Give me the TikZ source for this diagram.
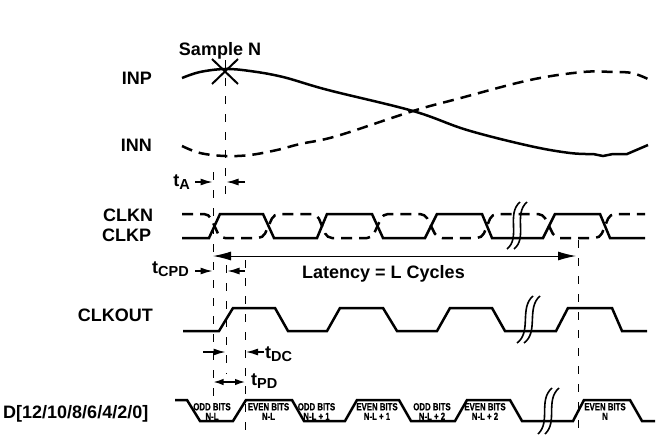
\documentclass[tikz,border=0pt]{standalone}
\usepackage{fontspec}
\setmainfont{Liberation Sans}
\newfontfamily\condfont{Liberation Sans}[FakeStretch=0.76,FakeBold=0.6]
\usetikzlibrary{arrows.meta}
\newcommand{\tsub}[1]{t\raisebox{-3pt}{\fontsize{14.5}{14}\selectfont #1}}
\begin{document}
\begin{tikzpicture}[x=1pt,y=-1pt,
  wave/.style={line width=2.5pt, line join=miter},
  dwave/.style={line width=2.5pt, dash pattern=on 11pt off 7pt},
  vguide/.style={line width=0.9pt, dash pattern=on 8pt off 10pt},
  lbl/.style={inner sep=0pt, font=\fontsize{18}{20}\selectfont\bfseries},
  cell/.style={inner sep=0pt, align=center, font=\condfont\bfseries\fontsize{10.3}{9.6}\selectfont},
  bigarrow/.style={line width=1pt, {Latex[length=18pt,width=9pt]}-{Latex[length=18pt,width=9pt]}},
  dimarrow/.style={line width=1.3pt, -{Latex[length=12pt,width=7pt]}},
  dblarrow/.style={line width=1.3pt, {Latex[length=10pt,width=6.5pt]}-{Latex[length=10pt,width=6.5pt]}},
  brk/.style={line width=1.6pt},
]
\useasboundingbox (0,0) rectangle (658,434);

% labels
\node[lbl, anchor=base] (sample) at (220,55) {Sample N};
\node[lbl, anchor=base east] (inp) at (152,84) {INP};
\node[lbl, anchor=base east] (inn) at (152,151) {INN};
\node[lbl, anchor=base west] (clkn) at (103,221.5) {CLKN};
\node[lbl, anchor=base west] (clkp) at (102,241.5) {CLKP};
\node[lbl, anchor=base east] (clkout) at (153,321) {CLKOUT};
\node[lbl, anchor=base west] (dbus) at (3,418) {D[12/10/8/6/4/2/0]};
\node[lbl, anchor=base west] (lat) at (302,278) {Latency = L Cycles};
\node[lbl, anchor=base east] (ta) at (190,186) {\tsub{A}};
\node[lbl, anchor=base west] (tcpd) at (152,273) {\tsub{CPD}};
\node[lbl, anchor=base west] (tdc) at (265,358) {\tsub{DC}};
\node[lbl, anchor=base west] (tpd) at (251,385) {\tsub{PD}};

% analog inputs
\draw[wave] plot[smooth, tension=0.6] coordinates {(182,78) (200,72) (225,69) (250,71) (283,77) (328,90) (413,111) (467,130) (530,146) (570,153) (593,154)}
  -- (603,156) -- (613,154) -- (627,154) -- (648,145);
\draw[dwave] plot[smooth, tension=0.6] coordinates {(182,146) (200,153) (225,156) (250,155) (277,150) (300,144) (337,136) (413,111) (457,99) (530,80) (583,72) (613,72) (632,73) (648,79)};

% sample cross
\draw[line width=2pt] (212,59) -- (238,84) (238,59) -- (212,84);

% clocks
\draw[dwave, rounded corners=5pt] (182,214) -- (209,214) -- (220,238) -- (263,238) -- (274,214) -- (317,214) -- (327,238) -- (372,238) -- (383,214) -- (425,214) -- (437,238) -- (482,238) -- (492,214) -- (543,214) -- (555,238) -- (600,238) -- (610,214) -- (645,214);
\draw[wave] (182,238) -- (209,238) -- (220,214) -- (263,214) -- (274,238) -- (317,238) -- (327,214) -- (372,214) -- (383,238) -- (425,238) -- (437,214) -- (482,214) -- (492,238) -- (543,238) -- (555,214) -- (600,214) -- (610,238) -- (645,238);

% clkout
\draw[wave] (183,331) -- (219,331) -- (233,308) -- (275,308) -- (288,331) -- (327,331) -- (340,308) -- (383,308) -- (397,331) -- (437,331) -- (450,308) -- (492,308) -- (505,331) -- (556,331) -- (568,308) -- (612,308) -- (622,331) -- (647,331);

% data bus
\draw[wave] (175,400) -- (187,400) -- (200,421) -- (233,421) -- (246,400) -- (292,400) -- (304,421) -- (345,421) -- (357,400) -- (399,400) -- (411,421) -- (455,421) -- (467,400) -- (510,400) -- (522,421) -- (573,421) -- (584,400) -- (630,400) -- (642,421) -- (655,421);
\node[cell] (c1) at (212,411.5) {ODD BITS\\N-L};
\node[cell] (c2) at (268.5,411.5) {EVEN BITS\\N-L};
\node[cell] (c3) at (316.5,411.5) {ODD BITS\\N-L + 1};
\node[cell] (c4) at (377,411.5) {EVEN BITS\\N-L + 1};
\node[cell] (c5) at (432,411.5) {ODD BITS\\N-L + 2};
\node[cell] (c6) at (485,411.5) {EVEN BITS\\N-L + 2};
\node[cell] (c7) at (605,411.5) {EVEN BITS\\N};

% breaks
\draw[brk] (520,202) .. controls (506,214) and (521,238) .. (507,249);
\draw[brk] (527,202) .. controls (513,214) and (528,238) .. (514,249);
\draw[brk] (533,296) .. controls (519,308) and (532,332) .. (517,343);
\draw[brk] (540,296) .. controls (526,308) and (539,332) .. (524,343);
\draw[brk] (552,388) .. controls (538,400) and (551,422) .. (538,434);
\draw[brk] (559,388) .. controls (545,400) and (558,422) .. (545,434);

% guide lines
\coordinate (g1a) at (225,60); \coordinate (g1b) at (225,200);
\coordinate (g2a) at (213,172); \coordinate (g2b) at (213,400);
\coordinate (g3a) at (226,265); \coordinate (g3b) at (226,374);
\coordinate (g4a) at (245.5,260); \coordinate (g4b) at (245.5,432);
\coordinate (g5a) at (578,240); \coordinate (g5b) at (578,432);
\draw[vguide] (g1a) -- (g1b);
\draw[vguide] (g2a) -- (g2b);
\draw[vguide] (g3a) -- (g3b);
\draw[vguide] (g4a) -- (g4b);
\draw[vguide] (g5a) -- (g5b);

% dimension arrows
\coordinate (la) at (213,256); \coordinate (lb) at (576,256);
\draw[bigarrow] (la) -- (lb);
\coordinate (ta1) at (195,182); \coordinate (ta2) at (212.5,182);
\coordinate (ta3) at (245,182); \coordinate (ta4) at (226.5,182);
\draw[dimarrow] (ta1) -- (ta2);
\draw[dimarrow] (ta3) -- (ta4);
\coordinate (tc1) at (195,271); \coordinate (tc2) at (212.5,271);
\coordinate (tc3) at (245,271); \coordinate (tc4) at (227.5,271);
\draw[dimarrow] (tc1) -- (tc2);
\draw[dimarrow] (tc3) -- (tc4);
\coordinate (td1) at (203,352); \coordinate (td2) at (225.5,352);
\coordinate (td3) at (264,352); \coordinate (td4) at (246,352);
\draw[dimarrow] (td1) -- (td2);
\draw[dimarrow] (td3) -- (td4);
\coordinate (tp1) at (213.5,382); \coordinate (tp2) at (245,382);
\draw[dblarrow] (tp1) -- (tp2);
\end{tikzpicture}
\end{document}
